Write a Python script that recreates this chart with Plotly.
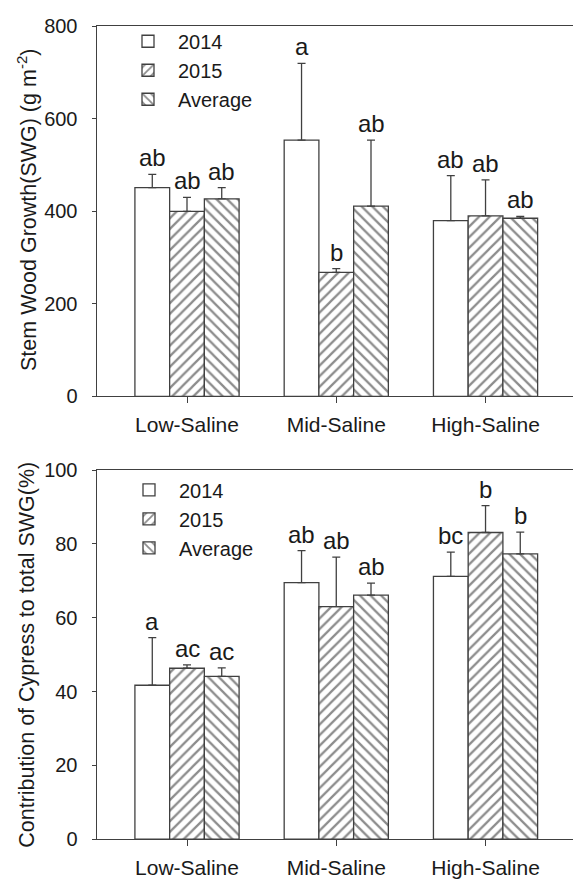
import plotly.graph_objects as go

# ---------------- data ----------------
sites = ["Low-Saline", "Mid-Saline", "High-Saline"]
series_names = ["2014", "2015", "Average"]

swg_2014 = [451, 554, 380]
swg_2015 = [400, 268, 390]
swg_avg = [427, 411, 385]
swg_err_2014 = [29, 166, 97]
swg_err_2015 = [30, 8, 78]
swg_err_avg = [24, 143, 4]
swg_letters_2014 = ["ab", "a", "ab"]
swg_letters_2015 = ["ab", "b", "ab"]
swg_letters_avg = ["ab", "ab", "ab"]

cyp_2014 = [41.7, 69.5, 71.2]
cyp_2015 = [46.3, 63.0, 83.1]
cyp_avg = [44.1, 66.1, 77.3]
cyp_err_2014 = [12.9, 8.7, 6.6]
cyp_err_2015 = [0.9, 13.4, 7.3]
cyp_err_avg = [2.3, 3.3, 5.9]
cyp_letters_2014 = ["a", "ab", "bc"]
cyp_letters_2015 = ["ac", "ab", "b"]
cyp_letters_avg = ["ac", "ab", "b"]

swg_ticks = [0, 200, 400, 600, 800]
cyp_ticks = [0, 20, 40, 60, 80, 100]

# ---------------- style ----------------
W, H = 573, 894
FONT = "Liberation Sans, Arial, sans-serif"
INK = "#404040"
HATCH = "#1a1a1a"
TXT = "#1a1a1a"
patterns = ["", "/", "\\"]
BARGAP = 0.302
N = len(series_names)
bar_w = (1 - BARGAP) / N

fig = go.Figure()

panels = [
    dict(xa="x", ya="y", legend="legend",
         vals=[swg_2014, swg_2015, swg_avg],
         errs=[swg_err_2014, swg_err_2015, swg_err_avg],
         letters=[swg_letters_2014, swg_letters_2015, swg_letters_avg]),
    dict(xa="x2", ya="y2", legend="legend2",
         vals=[cyp_2014, cyp_2015, cyp_avg],
         errs=[cyp_err_2014, cyp_err_2015, cyp_err_avg],
         letters=[cyp_letters_2014, cyp_letters_2015, cyp_letters_avg]),
]

annotations = []
for p in panels:
    for i, name in enumerate(series_names):
        fig.add_trace(go.Bar(
            x=sites, y=p["vals"][i], name=name,
            xaxis=p["xa"], yaxis=p["ya"], legend=p["legend"],
            marker=dict(color="white",
                        line=dict(color=INK, width=1.3),
                        pattern=dict(shape=patterns[i], size=7.5, solidity=0.3,
                                     fgcolor=HATCH, bgcolor="white")),
            error_y=dict(type="data", symmetric=False, array=p["errs"][i],
                         arrayminus=[0] * len(sites), color=INK,
                         thickness=1.3, width=4),
        ))
        for j in range(len(sites)):
            annotations.append(dict(
                x=j + (i - (N - 1) / 2) * bar_w,
                y=p["vals"][i][j] + p["errs"][i][j],
                xref=p["xa"], yref=p["ya"],
                text=p["letters"][i][j], showarrow=False,
                yanchor="bottom", xanchor="center", yshift=1,
                font=dict(family=FONT, size=24, color=TXT),
            ))

# y-axis titles
annotations.append(dict(
    text="Stem Wood Growth(SWG) (g m<sup>-2</sup>)", textangle=-90,
    x=27 / W, y=1 - 204 / H, xref="paper", yref="paper",
    xanchor="center", yanchor="middle", showarrow=False,
    font=dict(family=FONT, size=21.5, color=TXT)))
annotations.append(dict(
    text="Contribution of Cypress to total SWG(%)", textangle=-90,
    x=27 / W, y=1 - 660 / H, xref="paper", yref="paper",
    xanchor="center", yanchor="middle", showarrow=False,
    font=dict(family=FONT, size=21.5, color=TXT)))

x_left_px = 96.7
x_dom = [x_left_px / W, 1.0]
x_range = [-0.605, 2.586]

common_x = dict(range=x_range, showline=True, linecolor=INK, linewidth=1.4,
                mirror=True, ticks="outside", ticklen=6, tickwidth=1.3,
                tickcolor=INK, showgrid=False, zeroline=False,
                tickfont=dict(family=FONT, size=21, color=TXT),
                ticklabelstandoff=3)
common_y = dict(showline=True, linecolor=INK, linewidth=1.4, mirror=False,
                ticks="outside", ticklen=4, tickwidth=1.3, tickcolor=INK,
                showgrid=False, zeroline=False,
                tickfont=dict(family=FONT, size=20, color=TXT),
                ticklabelstandoff=10)

legend_common = dict(font=dict(family=FONT, size=20, color=TXT),
                     bgcolor="rgba(0,0,0,0)", itemwidth=50,
                     xanchor="left", yanchor="top", tracegroupgap=0,
                     itemclick=False)

fig.update_layout(
    width=W, height=H,
    margin=dict(l=0, r=0, t=0, b=0),
    paper_bgcolor="white", plot_bgcolor="white",
    barmode="group", bargap=BARGAP, bargroupgap=0,
    font=dict(family=FONT, color=TXT),
    xaxis=dict(domain=x_dom, anchor="y", **common_x),
    yaxis=dict(domain=[1 - 395 / H, 1 - 15.7 / H], anchor="x",
               range=[0, 800], tickvals=swg_ticks, **common_y),
    xaxis2=dict(domain=x_dom, anchor="y2", **common_x),
    yaxis2=dict(domain=[1 - 849 / H, 1 - 470.7 / H], anchor="x2",
                range=[0, 100], tickvals=cyp_ticks, **common_y),
    legend=dict(x=118 / W, y=1 - 11 / H, **legend_common),
    legend2=dict(x=119 / W, y=1 - 471 / H, **legend_common),
    annotations=annotations,
)

fig.write_html("out.html")
